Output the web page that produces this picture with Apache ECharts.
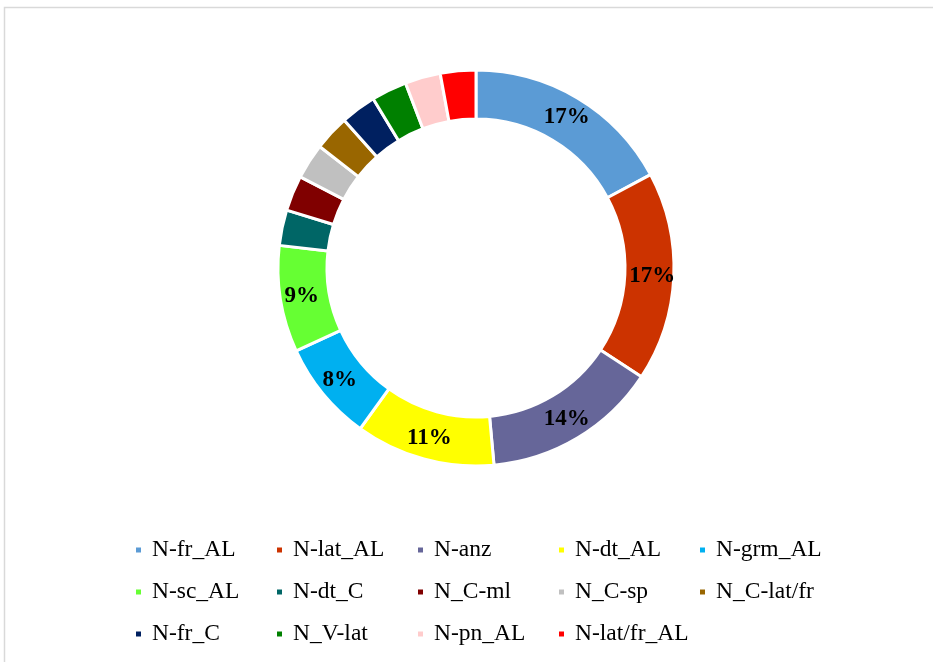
<!DOCTYPE html>
<html>
<head>
<meta charset="utf-8">
<script src="https://cdn.jsdelivr.net/npm/echarts@6/dist/echarts.min.js"></script>
<style>
  html, body { margin: 0; padding: 0; background: #ffffff; }
  #chart { width: 933px; height: 662px; }
</style>
</head>
<body>
<div id="chart"></div>
<script>
// Shares (%) of each name group
const categories = [
  'N-fr_AL', 'N-lat_AL', 'N-anz', 'N-dt_AL', 'N-grm_AL',
  'N-sc_AL', 'N-dt_C', 'N_C-ml', 'N_C-sp', 'N_C-lat/fr',
  'N-fr_C', 'N_V-lat', 'N-pn_AL', 'N-lat/fr_AL'
];
const values = [17.2, 17.1, 14.3, 11.4, 8.2, 8.7, 2.9, 2.9, 2.9, 2.9, 2.9, 2.9, 2.9, 2.9];
const colors = [
  '#5B9BD5', '#CC3300', '#666699', '#FFFF00', '#00B0F0',
  '#66FF33', '#006666', '#800000', '#C0C0C0', '#996600',
  '#002060', '#008000', '#FFCCCC', '#FF0000'
];
// Only the larger slices carry a percentage label
const labelMin = 5;

const serif = '"Liberation Serif", "Times New Roman", serif';

const chart = echarts.init(document.getElementById('chart'), null, { renderer: 'canvas' });

const data = categories.map((name, i) => ({
  name: name,
  value: values[i],
  itemStyle: { color: colors[i] },
  label: { show: values[i] >= labelMin }
}));

chart.setOption({
  backgroundColor: '#ffffff',
  animation: false,
  graphic: [{
    type: 'rect',
    shape: { x: 4.5, y: 7.5, width: 1000, height: 1000 },
    style: { fill: 'none', stroke: '#d9d9d9', lineWidth: 1.5 },
    silent: true
  }],
  legend: {
    data: categories,
    left: 134,
    top: 534,
    width: 700,
    padding: 0,
    itemGap: 10,
    itemWidth: 7,
    itemHeight: 7,
    icon: 'rect',
    textStyle: {
      fontFamily: serif,
      fontSize: 23.5,
      color: '#000000',
      lineHeight: 32,
      width: 113,
      padding: [0, 0, 0, 5]
    }
  },
  series: [{
    type: 'pie',
    center: [476, 268],
    radius: [149, 198],
    startAngle: 90,
    clockwise: true,
    avoidLabelOverlap: false,
    itemStyle: { borderColor: '#ffffff', borderWidth: 3 },
    label: {
      position: 'inside',
      formatter: p => Math.round(p.value) + '%',
      fontFamily: serif,
      fontWeight: 'bold',
      fontSize: 23,
      color: '#000000'
    },
    labelLine: { show: false },
    emphasis: { disabled: true },
    data: data
  }]
});
</script>
</body>
</html>
